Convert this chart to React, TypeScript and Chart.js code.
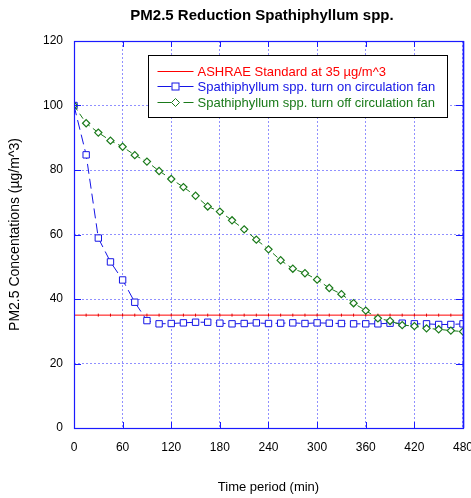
import React, { useEffect, useRef } from "react";
import { Chart, registerables } from "chart.js";

Chart.register(...registerables);

// ---- data ----
const times = [0, 15, 30, 45, 60, 75, 90, 105, 120, 135, 150, 165, 180, 195, 210, 225, 240, 255, 270, 285, 300, 315, 330, 345, 360, 375, 390, 405, 420, 435, 450, 465, 480];
const ashrae = [35, 35, 35, 35, 35, 35, 35, 35, 35, 35, 35, 35, 35, 35, 35, 35, 35, 35, 35, 35, 35, 35, 35, 35, 35, 35, 35, 35, 35, 35, 35, 35, 35];
const fanOn = [100, 84.7, 58.9, 51.5, 45.9, 39.0, 33.3, 32.3, 32.4, 32.6, 32.8, 32.8, 32.5, 32.3, 32.4, 32.6, 32.4, 32.5, 32.6, 32.4, 32.6, 32.5, 32.4, 32.3, 32.3, 32.3, 32.5, 32.5, 32.3, 32.3, 32.1, 32.1, 32.3];
const fanOff = [100, 94.5, 91.6, 89.1, 87.2, 84.6, 82.6, 79.7, 77.2, 74.7, 72.0, 68.7, 67.1, 64.4, 61.6, 58.4, 55.4, 52.0, 49.4, 48.0, 46.0, 43.4, 41.5, 38.7, 36.4, 34.0, 33.2, 31.9, 31.6, 30.9, 30.6, 30.2, 29.9];
const xTicks = [0, 60, 120, 180, 240, 300, 360, 420, 480];
const yTicks = [0, 20, 40, 60, 80, 100, 120];

const seriesLabels = [
  "ASHRAE Standard at 35 µg/m^3",
  "Spathiphyllum spp. turn on circulation fan",
  "Spathiphyllum spp. turn off circulation fan",
];
const chartTitle = "PM2.5 Reduction Spathiphyllum spp.";
const xTitle = "Time period (min)";
const yTitle = "PM2.5 Concentations (µg/m^3)";

const RED = "#ff0000";
const BLUE = "#1414e6";
const GREEN = "#1a7a1a";
const FRAME = "#1a1aff";
const FONT = "'Liberation Sans', Arial, sans-serif";

const pts = (ys: number[]) => times.map((t, i) => ({ x: t, y: ys[i] }));

const framePlugin = {
  id: "frame",
  afterDatasetsDraw(chart: any) {
    const { ctx, chartArea: a, scales } = chart;
    ctx.save();
    ctx.setLineDash([]);
    ctx.strokeStyle = FRAME;
    ctx.lineWidth = 1;
    ctx.beginPath();
    xTicks.forEach((v) => {
      const x = Math.round(scales.x.getPixelForValue(v)) + 0.5;
      ctx.moveTo(x, a.bottom);
      ctx.lineTo(x, a.bottom - 6);
      ctx.moveTo(x, a.top);
      ctx.lineTo(x, a.top + 6);
    });
    yTicks.forEach((v) => {
      const y = Math.round(scales.y.getPixelForValue(v)) + 0.5;
      ctx.moveTo(a.left, y);
      ctx.lineTo(a.left + 7, y);
      ctx.moveTo(a.right, y);
      ctx.lineTo(a.right - 7, y);
    });
    ctx.stroke();
    ctx.lineWidth = 1.2;
    ctx.strokeRect(Math.round(a.left) + 0.5, Math.round(a.top) + 0.5, Math.round(a.right - a.left), Math.round(a.bottom - a.top));
    ctx.lineWidth = 1.5;
    ctx.beginPath();
    ctx.moveTo(Math.round(a.right) + 0.5, a.top);
    ctx.lineTo(Math.round(a.right) + 0.5, a.bottom);
    ctx.stroke();
    ctx.restore();
  },
  afterDraw(chart: any) {
    const { ctx, chartArea: a } = chart;
    ctx.save();
    ctx.fillStyle = "#000";
    ctx.font = `bold 15px ${FONT}`;
    ctx.textAlign = "center";
    ctx.textBaseline = "middle";
    ctx.fillText(chartTitle, 262, 16);

    const bx = Math.round(a.left + 74) + 0.5;
    const by = Math.round(a.top + 14) + 0.5;
    const bw = 299;
    const bh = 62;
    ctx.fillStyle = "#ffffff";
    ctx.fillRect(bx, by, bw, bh);
    ctx.strokeStyle = "#000";
    ctx.lineWidth = 1;
    ctx.strokeRect(bx, by, bw, bh);
    const colors = [RED, BLUE, GREEN];
    const rows = [by + 16, by + 31, by + 47];
    const x0 = bx + 9;
    const x1 = bx + 45;
    const mx = bx + 27;
    rows.forEach((ry, i) => {
      ctx.strokeStyle = colors[i];
      ctx.lineWidth = 1;
      ctx.setLineDash([]);
      ctx.beginPath();
      if (i === 2) {
        ctx.moveTo(x0, ry); ctx.lineTo(mx - 4, ry);
        ctx.moveTo(mx + 8, ry); ctx.lineTo(x1, ry);
      } else {
        ctx.moveTo(x0, ry); ctx.lineTo(x1, ry);
      }
      ctx.stroke();
      if (i === 1) {
        ctx.fillStyle = "#fff";
        ctx.fillRect(mx - 4, ry - 4, 8, 8);
        ctx.strokeRect(mx - 4 + 0.5, ry - 4 + 0.5, 7, 7);
      } else if (i === 2) {
        ctx.fillStyle = "#fff";
        ctx.beginPath();
        ctx.moveTo(mx, ry - 4); ctx.lineTo(mx + 4, ry); ctx.lineTo(mx, ry + 4); ctx.lineTo(mx - 4, ry); ctx.closePath();
        ctx.fill(); ctx.stroke();
      }
      ctx.fillStyle = colors[i];
      ctx.font = `13px ${FONT}`;
      ctx.textAlign = "left";
      ctx.textBaseline = "middle";
      ctx.fillText(seriesLabels[i], bx + 49, ry + 0.5);
    });
    ctx.restore();
  },
};

export default function App() {
  const ref = useRef<HTMLCanvasElement | null>(null);
  useEffect(() => {
    document.body.style.margin = "0";
    document.body.style.overflow = "hidden";
    Chart.defaults.font.family = FONT;
    Chart.defaults.color = "#000";
    const chart = new Chart(ref.current as HTMLCanvasElement, {
      type: "line",
      data: {
        datasets: [
          {
            label: seriesLabels[0],
            data: pts(ashrae),
            borderColor: RED,
            borderWidth: 1,
            pointStyle: "line",
            rotation: 90,
            pointRadius: 1.5,
            pointBorderColor: "#dd0000",
            pointBorderWidth: 1,
            order: 3,
          },
          {
            label: seriesLabels[1],
            data: pts(fanOn),
            borderColor: BLUE,
            borderWidth: 1,
            borderDash: [10, 5],
            pointStyle: "rect",
            pointRadius: 4.5,
            pointBorderColor: BLUE,
            pointBackgroundColor: "#ffffff",
            pointBorderWidth: 1,
            order: 2,
          },
          {
            label: seriesLabels[2],
            data: pts(fanOff),
            borderColor: GREEN,
            borderWidth: 1,
            borderDash: [6, 4],
            pointStyle: "rectRot",
            pointRadius: 3.6,
            pointBorderColor: GREEN,
            pointBackgroundColor: "#ffffff",
            pointBorderWidth: 1.2,
            order: 1,
          },
        ],
      },
      options: {
        animation: false,
        responsive: false,
        devicePixelRatio: 1,
        layout: { padding: { top: 41, right: 0, left: 0, bottom: 0 } },
        plugins: {
          legend: { display: false },
          title: { display: false },
          tooltip: { enabled: false },
        },
        scales: {
          x: {
            type: "linear",
            min: 0,
            max: 480,
            afterBuildTicks: (s: any) => { s.ticks = xTicks.map((v) => ({ value: v })); },
            afterFit: (s: any) => { s.height = 70; },
            ticks: { font: { size: 12 }, color: "#000", padding: 12, maxRotation: 0, autoSkip: false },
            grid: { color: "rgba(70,70,255,0.6)", lineWidth: 1, drawTicks: false },
            border: { display: false, dash: [2, 2] },
            title: { display: true, text: xTitle, font: { size: 13 }, color: "#000", padding: { top: 0, bottom: 3 } },
          },
          y: {
            type: "linear",
            min: 0,
            max: 120,
            afterBuildTicks: (s: any) => { s.ticks = yTicks.map((v) => ({ value: v })); },
            afterFit: (s: any) => { s.width = 74; },
            ticks: { font: { size: 12 }, color: "#000", padding: 11 },
            grid: { color: "rgba(70,70,255,0.6)", lineWidth: 1, drawTicks: false },
            border: { display: false, dash: [2, 2] },
            title: { display: true, text: yTitle, font: { size: 14 }, color: "#000", padding: { top: 7, bottom: 0 } },
          },
        },
      },
      plugins: [framePlugin],
    } as any);
    return () => chart.destroy();
  }, []);
  return (
    <div style={{ position: "fixed", left: 0, top: 0 }}>
      <canvas ref={ref} width={485} height={498} style={{ display: "block" }} />
    </div>
  );
}
